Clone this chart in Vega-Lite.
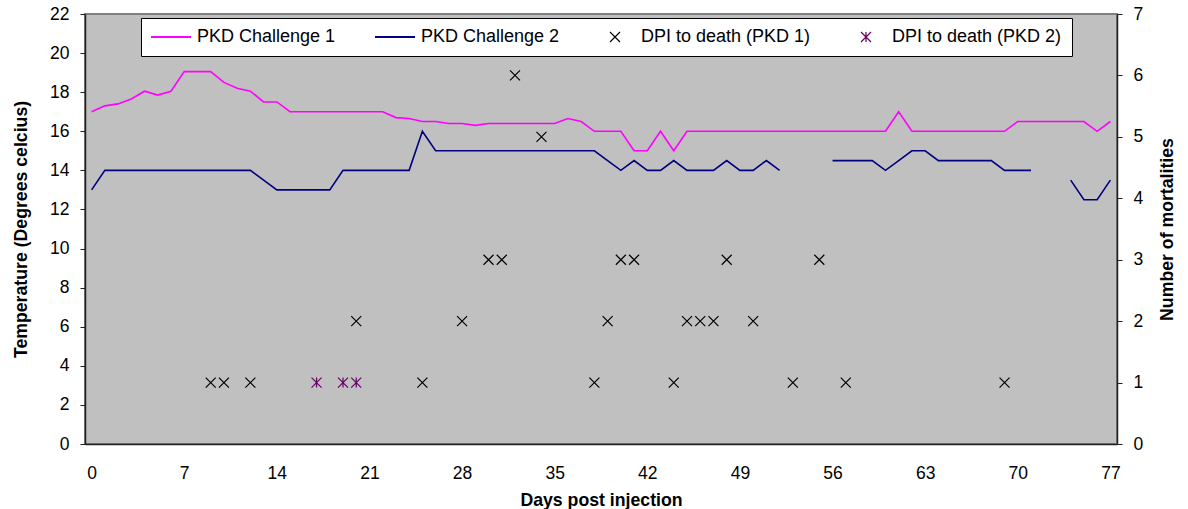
{
  "$schema": "https://vega.github.io/schema/vega-lite/v6.json",
  "width": 1032,
  "height": 430,
  "autosize": {"type": "none"},
  "padding": {"left": 85, "top": 14, "right": 71, "bottom": 65},
  "background": "white",
  "config": {
    "font": "Liberation Sans",
    "view": {"fill": "#C0C0C0", "stroke": "#808080", "strokeWidth": 2},
    "axis": {
      "grid": false,
      "labelFont": "Liberation Sans",
      "labelFontSize": 17.5,
      "labelColor": "#000000",
      "titleFont": "Liberation Sans",
      "titleFontSize": 17.7,
      "titleFontWeight": "bold",
      "titleColor": "#000000",
      "domainColor": "#222222",
      "domainWidth": 1.5,
      "tickColor": "#222222",
      "tickWidth": 1
    }
  },
  "datasets": {
    "temps": [
      {"day": 0, "PKD Challenge 1": 17, "PKD Challenge 2": 13},
      {"day": 1, "PKD Challenge 1": 17.3, "PKD Challenge 2": 14},
      {"day": 2, "PKD Challenge 1": 17.4, "PKD Challenge 2": 14},
      {"day": 3, "PKD Challenge 1": 17.65, "PKD Challenge 2": 14},
      {"day": 4, "PKD Challenge 1": 18.05, "PKD Challenge 2": 14},
      {"day": 5, "PKD Challenge 1": 17.85, "PKD Challenge 2": 14},
      {"day": 6, "PKD Challenge 1": 18.05, "PKD Challenge 2": 14},
      {"day": 7, "PKD Challenge 1": 19.05, "PKD Challenge 2": 14},
      {"day": 8, "PKD Challenge 1": 19.05, "PKD Challenge 2": 14},
      {"day": 9, "PKD Challenge 1": 19.05, "PKD Challenge 2": 14},
      {"day": 10, "PKD Challenge 1": 18.5, "PKD Challenge 2": 14},
      {"day": 11, "PKD Challenge 1": 18.2, "PKD Challenge 2": 14},
      {"day": 12, "PKD Challenge 1": 18.05, "PKD Challenge 2": 14},
      {"day": 13, "PKD Challenge 1": 17.5, "PKD Challenge 2": 13.5},
      {"day": 14, "PKD Challenge 1": 17.5, "PKD Challenge 2": 13},
      {"day": 15, "PKD Challenge 1": 17, "PKD Challenge 2": 13},
      {"day": 16, "PKD Challenge 1": 17, "PKD Challenge 2": 13},
      {"day": 17, "PKD Challenge 1": 17, "PKD Challenge 2": 13},
      {"day": 18, "PKD Challenge 1": 17, "PKD Challenge 2": 13},
      {"day": 19, "PKD Challenge 1": 17, "PKD Challenge 2": 14},
      {"day": 20, "PKD Challenge 1": 17, "PKD Challenge 2": 14},
      {"day": 21, "PKD Challenge 1": 17, "PKD Challenge 2": 14},
      {"day": 22, "PKD Challenge 1": 17, "PKD Challenge 2": 14},
      {"day": 23, "PKD Challenge 1": 16.7, "PKD Challenge 2": 14},
      {"day": 24, "PKD Challenge 1": 16.65, "PKD Challenge 2": 14},
      {"day": 25, "PKD Challenge 1": 16.5, "PKD Challenge 2": 16},
      {"day": 26, "PKD Challenge 1": 16.5, "PKD Challenge 2": 15},
      {"day": 27, "PKD Challenge 1": 16.4, "PKD Challenge 2": 15},
      {"day": 28, "PKD Challenge 1": 16.4, "PKD Challenge 2": 15},
      {"day": 29, "PKD Challenge 1": 16.3, "PKD Challenge 2": 15},
      {"day": 30, "PKD Challenge 1": 16.4, "PKD Challenge 2": 15},
      {"day": 31, "PKD Challenge 1": 16.4, "PKD Challenge 2": 15},
      {"day": 32, "PKD Challenge 1": 16.4, "PKD Challenge 2": 15},
      {"day": 33, "PKD Challenge 1": 16.4, "PKD Challenge 2": 15},
      {"day": 34, "PKD Challenge 1": 16.4, "PKD Challenge 2": 15},
      {"day": 35, "PKD Challenge 1": 16.4, "PKD Challenge 2": 15},
      {"day": 36, "PKD Challenge 1": 16.65, "PKD Challenge 2": 15},
      {"day": 37, "PKD Challenge 1": 16.5, "PKD Challenge 2": 15},
      {"day": 38, "PKD Challenge 1": 16, "PKD Challenge 2": 15},
      {"day": 39, "PKD Challenge 1": 16, "PKD Challenge 2": 14.5},
      {"day": 40, "PKD Challenge 1": 16, "PKD Challenge 2": 14},
      {"day": 41, "PKD Challenge 1": 15, "PKD Challenge 2": 14.5},
      {"day": 42, "PKD Challenge 1": 15, "PKD Challenge 2": 14},
      {"day": 43, "PKD Challenge 1": 16, "PKD Challenge 2": 14},
      {"day": 44, "PKD Challenge 1": 15, "PKD Challenge 2": 14.5},
      {"day": 45, "PKD Challenge 1": 16, "PKD Challenge 2": 14},
      {"day": 46, "PKD Challenge 1": 16, "PKD Challenge 2": 14},
      {"day": 47, "PKD Challenge 1": 16, "PKD Challenge 2": 14},
      {"day": 48, "PKD Challenge 1": 16, "PKD Challenge 2": 14.5},
      {"day": 49, "PKD Challenge 1": 16, "PKD Challenge 2": 14},
      {"day": 50, "PKD Challenge 1": 16, "PKD Challenge 2": 14},
      {"day": 51, "PKD Challenge 1": 16, "PKD Challenge 2": 14.5},
      {"day": 52, "PKD Challenge 1": 16, "PKD Challenge 2": 14},
      {"day": 53, "PKD Challenge 1": 16, "PKD Challenge 2": null},
      {"day": 54, "PKD Challenge 1": 16, "PKD Challenge 2": null},
      {"day": 55, "PKD Challenge 1": 16, "PKD Challenge 2": null},
      {"day": 56, "PKD Challenge 1": 16, "PKD Challenge 2": 14.5},
      {"day": 57, "PKD Challenge 1": 16, "PKD Challenge 2": 14.5},
      {"day": 58, "PKD Challenge 1": 16, "PKD Challenge 2": 14.5},
      {"day": 59, "PKD Challenge 1": 16, "PKD Challenge 2": 14.5},
      {"day": 60, "PKD Challenge 1": 16, "PKD Challenge 2": 14},
      {"day": 61, "PKD Challenge 1": 17, "PKD Challenge 2": 14.5},
      {"day": 62, "PKD Challenge 1": 16, "PKD Challenge 2": 15},
      {"day": 63, "PKD Challenge 1": 16, "PKD Challenge 2": 15},
      {"day": 64, "PKD Challenge 1": 16, "PKD Challenge 2": 14.5},
      {"day": 65, "PKD Challenge 1": 16, "PKD Challenge 2": 14.5},
      {"day": 66, "PKD Challenge 1": 16, "PKD Challenge 2": 14.5},
      {"day": 67, "PKD Challenge 1": 16, "PKD Challenge 2": 14.5},
      {"day": 68, "PKD Challenge 1": 16, "PKD Challenge 2": 14.5},
      {"day": 69, "PKD Challenge 1": 16, "PKD Challenge 2": 14},
      {"day": 70, "PKD Challenge 1": 16.5, "PKD Challenge 2": 14},
      {"day": 71, "PKD Challenge 1": 16.5, "PKD Challenge 2": 14},
      {"day": 72, "PKD Challenge 1": 16.5, "PKD Challenge 2": null},
      {"day": 73, "PKD Challenge 1": 16.5, "PKD Challenge 2": null},
      {"day": 74, "PKD Challenge 1": 16.5, "PKD Challenge 2": 13.5},
      {"day": 75, "PKD Challenge 1": 16.5, "PKD Challenge 2": 12.5},
      {"day": 76, "PKD Challenge 1": 16, "PKD Challenge 2": 12.5},
      {"day": 77, "PKD Challenge 1": 16.5, "PKD Challenge 2": 13.5}
    ],
    "deaths": [
      {"day": 9, "n": 1, "series": "DPI to death (PKD 1)"},
      {"day": 10, "n": 1, "series": "DPI to death (PKD 1)"},
      {"day": 12, "n": 1, "series": "DPI to death (PKD 1)"},
      {"day": 20, "n": 2, "series": "DPI to death (PKD 1)"},
      {"day": 25, "n": 1, "series": "DPI to death (PKD 1)"},
      {"day": 28, "n": 2, "series": "DPI to death (PKD 1)"},
      {"day": 30, "n": 3, "series": "DPI to death (PKD 1)"},
      {"day": 31, "n": 3, "series": "DPI to death (PKD 1)"},
      {"day": 32, "n": 6, "series": "DPI to death (PKD 1)"},
      {"day": 34, "n": 5, "series": "DPI to death (PKD 1)"},
      {"day": 38, "n": 1, "series": "DPI to death (PKD 1)"},
      {"day": 39, "n": 2, "series": "DPI to death (PKD 1)"},
      {"day": 40, "n": 3, "series": "DPI to death (PKD 1)"},
      {"day": 41, "n": 3, "series": "DPI to death (PKD 1)"},
      {"day": 44, "n": 1, "series": "DPI to death (PKD 1)"},
      {"day": 45, "n": 2, "series": "DPI to death (PKD 1)"},
      {"day": 46, "n": 2, "series": "DPI to death (PKD 1)"},
      {"day": 47, "n": 2, "series": "DPI to death (PKD 1)"},
      {"day": 48, "n": 3, "series": "DPI to death (PKD 1)"},
      {"day": 50, "n": 2, "series": "DPI to death (PKD 1)"},
      {"day": 53, "n": 1, "series": "DPI to death (PKD 1)"},
      {"day": 55, "n": 3, "series": "DPI to death (PKD 1)"},
      {"day": 57, "n": 1, "series": "DPI to death (PKD 1)"},
      {"day": 69, "n": 1, "series": "DPI to death (PKD 1)"},
      {"day": 17, "n": 1, "series": "DPI to death (PKD 2)"},
      {"day": 19, "n": 1, "series": "DPI to death (PKD 2)"},
      {"day": 20, "n": 1, "series": "DPI to death (PKD 2)"}
    ]
  },
  "encoding": {
    "x": {
      "field": "day",
      "type": "quantitative",
      "scale": {"domain": [-0.5, 77.5], "nice": false, "zero": false},
      "axis": {
        "title": "Days post injection",
        "values": [0, 7, 14, 21, 28, 35, 42, 49, 56, 63, 70, 77],
        "ticks": false,
        "labelPadding": 20,
        "titlePadding": 10
      }
    }
  },
  "layer": [
    {
      "data": {"name": "temps"},
      "transform": [{"fold": ["PKD Challenge 1", "PKD Challenge 2"], "as": ["series", "temp"]}],
      "mark": {"type": "line", "strokeWidth": 1.6, "invalid": "break-paths-show-domains"},
      "encoding": {
        "y": {
          "field": "temp",
          "type": "quantitative",
          "scale": {"domain": [0, 22], "nice": false},
          "axis": {
            "orient": "left",
            "title": "Temperature (Degrees celcius)",
            "values": [0, 2, 4, 6, 8, 10, 12, 14, 16, 18, 20, 22],
            "tickSize": 5,
            "labelPadding": 11,
            "titlePadding": 19
          }
        },
        "color": {
          "field": "series",
          "type": "nominal",
          "scale": {
            "domain": ["PKD Challenge 1", "PKD Challenge 2", "DPI to death (PKD 1)", "DPI to death (PKD 2)"],
            "range": ["#FF00FF", "#000080", "#000000", "#660066"]
          },
          "legend": {
            "title": null,
            "orient": "none",
            "legendX": 56,
            "legendY": 4,
            "direction": "horizontal",
            "columns": 4,
            "fillColor": "#FFFFFF",
            "strokeColor": "#000000",
            "padding": 10,
            "columnPadding": 35,
            "symbolSize": 1600,
            "labelOffset": 28,
            "labelFont": "Liberation Sans",
            "labelFontSize": 18,
            "labelColor": "#000000",
            "labelLimit": 300,
            "encode": {
              "symbols": {
                "update": {
                  "x": {"value": 20},
                  "size": {"signal": "indexof(['PKD Challenge 1','PKD Challenge 2'], datum.value) >= 0 ? 1600 : 100"},
                  "strokeWidth": {"signal": "indexof(['PKD Challenge 1','PKD Challenge 2'], datum.value) >= 0 ? 1.8 : 1.2"}
                }
              }
            }
          }
        }
      }
    },
    {
      "data": {"name": "deaths"},
      "mark": {"type": "point", "filled": false, "size": 100, "strokeWidth": 1.2, "opacity": 1},
      "encoding": {
        "y": {
          "field": "n",
          "type": "quantitative",
          "scale": {"domain": [0, 7], "nice": false},
          "axis": {
            "orient": "right",
            "title": "Number of mortalities",
            "values": [0, 1, 2, 3, 4, 5, 6, 7],
            "tickSize": 5,
            "labelPadding": 11,
            "titlePadding": 34,
            "titleAngle": 270
          }
        },
        "color": {"field": "series", "type": "nominal"},
        "shape": {
          "field": "series",
          "type": "nominal",
          "scale": {
            "domain": ["PKD Challenge 1", "PKD Challenge 2", "DPI to death (PKD 1)", "DPI to death (PKD 2)"],
            "range": ["stroke", "stroke", "M-1,-1L1,1M-1,1L1,-1", "M-1,-1L1,1M-1,1L1,-1M0,-1L0,1"]
          }
        }
      }
    }
  ],
  "resolve": {"scale": {"y": "independent"}}
}
